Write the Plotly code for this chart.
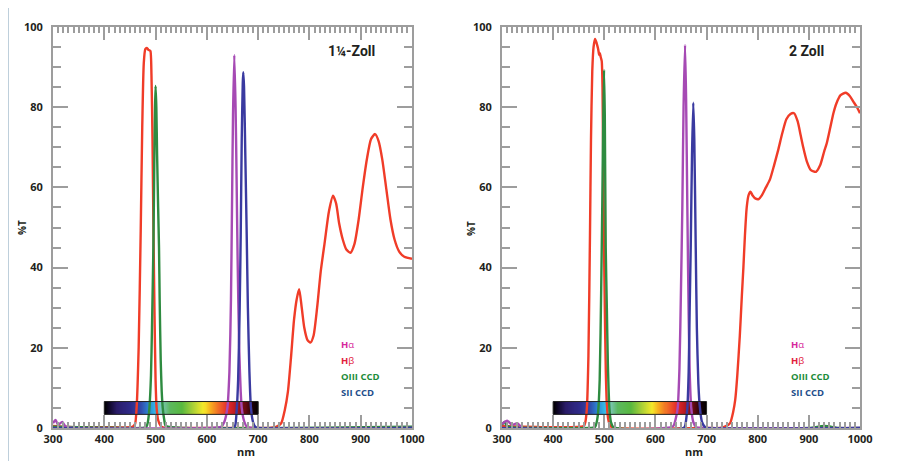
import plotly.graph_objects as go
import numpy as np

W, H = 906, 461
OFF = 8  # page body margin of the html page (px)

# ---------------- data: 1 1/4 inch filters ----------------
hb_s_nm = [300, 320, 340, 400, 455, 460, 463, 467, 471, 474, 477, 480, 483, 486, 488, 490, 492, 494, 496, 498, 500,
           502, 505, 510, 516, 560, 650, 700, 722, 735, 745, 752, 758, 764, 770, 775, 780, 785, 790, 796, 802, 808,
           815, 822, 830, 838, 846, 852, 858, 865, 872, 880, 888, 896, 904, 912, 920, 928, 935, 942, 950, 958, 966,
           975, 985, 1000]
hb_s_t = [0.5, 0.3, 0.2, 0.2, 0.3, 1, 5, 20, 49, 75, 91, 94.5, 94.8, 94.3, 94.2, 94, 88, 72, 48, 28, 12,
          5, 2, 0.5, 0.1, 0, 0, 0, 0, 0.3, 1.2, 4.5, 9, 17.5, 27, 32, 34.6, 30, 25, 22, 21.3, 23,
          30, 39, 46.5, 54, 57.9, 56, 51, 47, 44.5, 43.7, 46, 52, 60, 67, 72, 73.3, 71.5, 67, 59.5, 52, 47,
          44, 42.7, 42.2]

o3_s_nm = [300, 400, 470, 482, 485, 488, 491, 493, 495.7, 497.5, 499, 500, 501.5, 503, 505, 506.7, 508, 510, 512,
           514, 517, 520, 560, 1000]
o3_s_t = [0.3, 0.1, 0, 0.3, 1.5, 5, 13, 25, 45, 66, 80, 85.3, 80, 68, 55, 45, 32, 17, 9,
          5, 2, 0.5, 0, 0.3]

ha_s_nm = [300, 305, 310, 318, 325, 340, 600, 628, 634, 640, 644, 647, 649, 651, 653.5, 656, 658, 660, 663, 666,
           668, 672, 678, 690, 1000]
ha_s_t = [1.2, 2, 0.8, 1.5, 0.3, 0, 0, 0.3, 1.5, 5, 14, 32, 55, 78, 93, 80, 62, 42, 20, 9,
          5, 2, 0.3, 0, 0]

s2_s_nm = [300, 650, 655, 658, 661, 664, 666, 668, 670, 671, 672.5, 675, 677.6, 680, 683, 686, 690, 695, 700, 1000]
s2_s_t = [0, 0, 0.5, 4, 12, 30, 48, 72, 86, 88.7, 85, 68, 49, 30, 14, 5, 1.5, 0.2, 0, 0]

# ---------------- data: 2 inch filters ----------------
hb_b_nm = [300, 400, 460, 463, 466, 469, 472, 474, 476.5, 479, 482, 485, 488, 490, 491.5, 493, 495, 496.5, 498,
           499.5, 501, 503, 505, 508, 512, 520, 700, 726, 740, 746, 752, 756, 760, 765, 769, 772, 775, 778.5, 782,
           786, 790, 796, 802, 808, 816, 824, 832, 840, 848, 856, 864, 871, 878, 884, 889, 896, 904, 914, 922, 930,
           935, 942, 948, 954, 962, 972, 980, 987, 994, 1000]
hb_b_t = [0.5, 0.2, 0.5, 1.5, 5, 18, 48, 72, 89, 95, 97, 96, 94.5, 93, 93.5, 92.5, 91.5, 85, 65,
          45, 30, 14, 6, 2, 0.5, 0, 0, 0, 0.6, 1.2, 4, 7, 13, 23, 33, 40, 48, 55, 58,
          58.9, 58, 57.2, 57.1, 58, 60, 62, 65.5, 69.3, 73.5, 77, 78.3, 78.5, 76.5, 73, 70, 66.5, 64.3, 63.9, 65.5, 69,
          71, 75, 78.5, 81, 83, 83.6, 82.8, 81.4, 80, 78.5]

o3_b_nm = [300, 305, 310, 320, 470, 482, 486, 488, 491, 494, 496, 497.5, 499.5, 501, 502.8, 505, 507, 510, 513,
           518, 900, 930, 960, 1000]
o3_b_t = [0.8, 1.5, 0.5, 0.2, 0, 0.3, 2, 4, 12, 35, 55, 72, 89.3, 78, 45, 30, 16, 5, 1.5,
          0.2, 0, 0.5, 0, 0]

ha_b_nm = [300, 310, 320, 330, 340, 620, 635, 640, 643.5, 647, 650, 652.6, 655, 657.9, 660, 662.4, 665, 667, 670,
           674, 680, 700, 1000]
ha_b_t = [1, 1.8, 0.8, 1.2, 0, 0, 0.5, 2.5, 5, 15, 35, 55, 80, 95.5, 82, 55, 28, 14, 5,
          1.5, 0.2, 0, 0]

s2_b_nm = [300, 655, 658, 660, 662.4, 665, 667, 669, 671.5, 674, 676, 678.8, 681, 684, 687, 691, 697, 700, 1000]
s2_b_t = [0, 0, 0.5, 2, 5, 14, 30, 45, 68, 81.1, 72, 45, 25, 11, 5, 1.5, 0.2, 0, 0]

# ---------------- labels ----------------
panel_titles = ["1¼-Zoll", "2 Zoll"]
legend_labels = ["<b>H</b>α", "<b>H</b>β", "<b>OIII CCD</b>", "<b>SII CCD</b>"]
legend_colors = ["#d6289c", "#e2203c", "#1e8c3a", "#1f4f8c"]
x_ticks = [300, 400, 500, 600, 700, 800, 900, 1000]
y_ticks = [0, 20, 40, 60, 80, 100]

# visible spectrum strip (wavelength -> colour)
spec_nm = [400, 409, 424, 451, 469, 484, 500, 510, 526, 550, 571, 593, 605, 622, 640, 658, 676, 690, 700]
spec_col = ["#000000", "#10082a", "#2a1c68", "#302c8c", "#3048a8", "#2f7fd0", "#33bbe8", "#80c8c0", "#5cb860",
            "#58b840", "#a6cf38", "#f5ea2a", "#f8b020", "#f06a28", "#e52a2a", "#b01820", "#5a0810", "#150005",
            "#000000"]
spec_lo, spec_hi = 3.4, 6.6

# ---------------- styling ----------------
C_HB = "#f03c28"
C_O3 = "#2e8b40"
C_HA = "#a64ab4"
C_S2 = "#3a3aa0"
AX = "#9d9d9d"
TXT = "#231f20"
FONT = "Open Sans"


def px(x):
    return (x - OFF) / W


def py(y):
    return 1 - (y - OFF) / H


panels = [
    dict(x0=53, x1=412, curves=[(hb_s_nm, hb_s_t, C_HB), (o3_s_nm, o3_s_t, C_O3), (ha_s_nm, ha_s_t, C_HA),
                                (s2_s_nm, s2_s_t, C_S2)], title_x=377, leg_x=339, ylab_x=22, nm_x=246),
    dict(x0=502, x1=860, curves=[(hb_b_nm, hb_b_t, C_HB), (o3_b_nm, o3_b_t, C_O3), (ha_b_nm, ha_b_t, C_HA),
                                 (s2_b_nm, s2_b_t, C_S2)], title_x=826, leg_x=789, ylab_x=471, nm_x=694),
]

fig = go.Figure()
cs = [[(w - 400) / 300, c] for w, c in zip(spec_nm, spec_col)]
edges = np.linspace(400, 700, 151)
centers = (edges[:-1] + edges[1:]) / 2

annotations = []
shapes = []
for i, p in enumerate(panels):
    xa = "x" if i == 0 else "x2"
    ya = "y" if i == 0 else "y2"
    fig.add_trace(go.Heatmap(x=edges, y=[spec_lo, spec_hi], z=[centers], colorscale=cs, zmin=400, zmax=700,
                             zsmooth="best", showscale=False, hoverinfo="skip", xaxis=xa, yaxis=ya))
    shapes.append(dict(type="rect", xref=xa, yref=ya, x0=400, x1=700, y0=spec_lo, y1=spec_hi,
                       line=dict(color="#222", width=1)))
    for nm, t, col in p["curves"]:
        fig.add_trace(go.Scatter(x=nm, y=t, mode="lines", line=dict(color=col, width=2.4, shape="spline",
                                                                     smoothing=0.6),
                                 showlegend=False, xaxis=xa, yaxis=ya))
    axis_common = dict(showgrid=False, zeroline=False, showline=True, linecolor=AX, linewidth=2,
                       mirror="ticks", ticks="inside", tickcolor=AX, tickwidth=2, automargin=False,
                       tickfont=dict(family=FONT, size=11, color=TXT, weight="bold"))
    xkey = "xaxis" if i == 0 else "xaxis2"
    ykey = "yaxis" if i == 0 else "yaxis2"
    fig.update_layout(**{
        xkey: dict(axis_common, domain=[px(p["x0"]), px(p["x1"])], range=[300, 1000], tickvals=x_ticks,
                   ticklen=13, anchor=ya, ticklabelstandoff=0,
                   minor=dict(dtick=10, ticks="inside", ticklen=6, tickcolor=AX, tickwidth=1.5)),
        ykey: dict(axis_common, domain=[py(428), py(27)], range=[0, 100], tickvals=y_ticks,
                   ticklen=15, anchor=xa, ticklabelstandoff=6,
                   minor=dict(dtick=5, ticks="inside", ticklen=8, tickcolor=AX, tickwidth=1.5)),
    })
    annotations.append(dict(text="<b>" + panel_titles[i] + "</b>", x=px(p["title_x"]), y=py(51), xref="paper",
                            yref="paper", xanchor="right", yanchor="middle", showarrow=False,
                            font=dict(family="Roboto", size=14, color=TXT)))
    for k, (lab, col) in enumerate(zip(legend_labels, legend_colors)):
        annotations.append(dict(text=lab, x=px(p["leg_x"]), y=py(344 + 16 * k), xref="paper", yref="paper",
                                xanchor="left", yanchor="middle", showarrow=False,
                                font=dict(family=FONT, size=9.5, color=col)))
    annotations.append(dict(text="<b>%T</b>", x=px(p["ylab_x"]), y=py(228), xref="paper", yref="paper",
                            xanchor="center", yanchor="middle",
                            textangle=-90, showarrow=False, font=dict(family=FONT, size=10, color=TXT)))
    annotations.append(dict(text="<b>nm</b>", x=px(p["nm_x"]), y=py(451), xref="paper", yref="paper",
                            xanchor="center", yanchor="middle",
                            showarrow=False, font=dict(family=FONT, size=11, color=TXT)))

shapes.append(dict(type="rect", xref="paper", yref="paper", x0=px(8), x1=px(902), y0=-0.05, y1=py(7),
                   line=dict(color="#a9c0d0", width=1.5), layer="below"))

fig.update_layout(width=W, height=H, margin=dict(l=0, r=0, t=0, b=0, autoexpand=False), paper_bgcolor="white",
                  plot_bgcolor="white", showlegend=False, annotations=annotations, shapes=shapes)

fig.write_html("out.html")
